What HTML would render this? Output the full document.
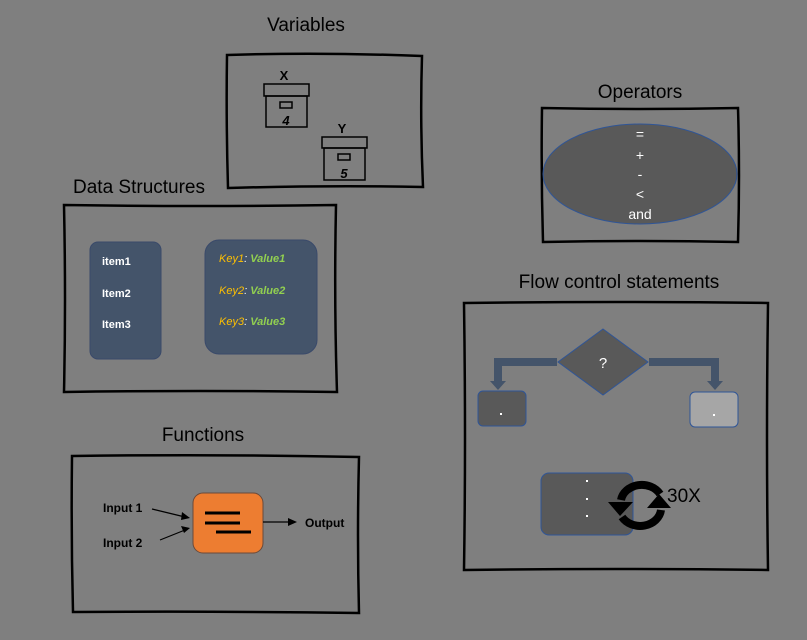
<!DOCTYPE html>
<html><head><style>
body{margin:0;background:#7f7f7f;}
svg{display:block;font-family:"Liberation Sans",sans-serif;}
</style></head><body>
<svg width="807" height="640" viewBox="0 0 807 640">
<rect width="807" height="640" fill="#7f7f7f"/>
<g fill="none" stroke="#000" stroke-width="2.5">
<path d="M227,55 Q320,52 422,56 Q420,120 423,187 Q330,185 228,188 Q226,120 227,55Z"/>
<path d="M542,108 Q640,110 738,108 Q740,175 738,242 Q640,240 543,242 Q541,175 542,108Z"/>
<path d="M64,205 Q200,207 336,205 Q334,300 337,392 Q200,390 64,392 Q66,300 64,205Z"/>
<path d="M464,303 Q615,301 768,303 Q766,440 768,570 Q615,568 464,570 Q466,440 464,303Z"/>
<path d="M72,456 Q215,454 359,457 Q357,535 359,613 Q215,611 73,612 Q71,535 72,456Z"/>
</g>
<g font-size="19" fill="#000" text-anchor="middle">
<text x="306" y="31">Variables</text>
<text x="640" y="98">Operators</text>
<text x="139" y="193">Data Structures</text>
<text x="619" y="288">Flow control statements</text>
<text x="203" y="441">Functions</text>
</g>
<g stroke="#000" stroke-width="1.5" fill="none">
<rect x="264" y="84" width="45" height="12"/><rect x="266" y="96" width="41" height="31"/><rect x="280" y="102" width="12" height="6"/>
<rect x="322" y="137" width="45" height="11"/><rect x="324" y="148" width="41" height="32"/><rect x="338" y="154" width="12" height="6"/>
</g>
<g font-weight="bold" font-size="13" text-anchor="middle">
<text x="284" y="80">X</text><text x="286" y="125" font-style="italic">4</text>
<text x="342" y="133">Y</text><text x="344" y="178" font-style="italic">5</text>
</g>
<ellipse cx="640" cy="174" rx="97" ry="50" fill="#595959" stroke="#2f5597" stroke-width="1"/>
<g fill="#fff" font-size="14" text-anchor="middle">
<text x="640" y="139">=</text><text x="640" y="160">+</text><text x="640" y="179">-</text><text x="640" y="199">&lt;</text><text x="640" y="219">and</text>
</g>
<rect x="90" y="242" width="71" height="117" rx="8" fill="#44546a" stroke="#3a4a6a"/>
<rect x="205" y="240" width="112" height="114" rx="14" fill="#44546a" stroke="#3a4a6a"/>
<g fill="#fff" font-size="11" font-weight="bold">
<text x="102" y="265">item1</text><text x="102" y="297">Item2</text><text x="102" y="328">Item3</text>
</g>
<g font-size="11" font-weight="bold" font-style="italic">
<text x="219" y="262"><tspan fill="#ffc000" font-weight="normal">Key1</tspan><tspan fill="#fff" font-weight="normal">: </tspan><tspan fill="#92d050">Value1</tspan></text>
<text x="219" y="294"><tspan fill="#ffc000" font-weight="normal">Key2</tspan><tspan fill="#fff" font-weight="normal">: </tspan><tspan fill="#92d050">Value2</tspan></text>
<text x="219" y="325"><tspan fill="#ffc000" font-weight="normal">Key3</tspan><tspan fill="#fff" font-weight="normal">: </tspan><tspan fill="#92d050">Value3</tspan></text>
</g>
<path d="M557,362 L498,362 L498,382" fill="none" stroke="#44546a" stroke-width="8"/>
<path d="M490,381 L506,381 L498,390Z" fill="#44546a"/>
<path d="M649,362 L715,362 L715,382" fill="none" stroke="#44546a" stroke-width="8"/>
<path d="M707,381 L723,381 L715,390Z" fill="#44546a"/>
<polygon points="603,329 648,362 603,395 558,362" fill="#595959" stroke="#2f5597" stroke-width="1"/>
<text x="603" y="368" fill="#fff" font-size="15" text-anchor="middle">?</text>
<rect x="478" y="391" width="48" height="35" rx="5" fill="#595959" stroke="#2f5597"/>
<rect x="690" y="392" width="48" height="35" rx="5" fill="#a6a6a6" stroke="#2f5597"/>
<rect x="500" y="413" width="2" height="2" fill="#fff"/><rect x="713" y="414" width="2" height="2" fill="#fff"/>
<rect x="541" y="473" width="92" height="62" rx="8" fill="#595959" stroke="#2f5597"/>
<rect x="586" y="480" width="2" height="2" fill="#fff"/><rect x="586" y="498" width="2" height="2" fill="#fff"/><rect x="586" y="515" width="2" height="2" fill="#fff"/>
<g fill="none" stroke="#000" stroke-width="8">
<path d="M621,500 A21,18 0 0 1 660,494"/>
<path d="M661,510 A21,18 0 0 1 622,517"/>
</g>
<path d="M608,502 L633,502 L620,516Z" fill="#000"/>
<path d="M671,508 L647,508 L659,494Z" fill="#000"/>
<text x="667" y="502" font-size="19" fill="#000">30X</text>
<rect x="193" y="493" width="70" height="60" rx="10" fill="#ed7d31" stroke="#6b4a3a"/>
<g stroke="#000" stroke-width="3"><line x1="205" y1="513" x2="240" y2="513"/><line x1="205" y1="523" x2="240" y2="523"/><line x1="216" y1="532" x2="251" y2="532"/></g>
<g stroke="#000" stroke-width="1.2"><line x1="152" y1="509" x2="185" y2="517"/><line x1="160" y1="540" x2="185" y2="530"/><line x1="263" y1="522" x2="290" y2="522"/></g>
<path d="M190,518 L182,512 L181,520Z M190,528 L181,526 L184,533Z M297,522 L288,518 L288,526Z" fill="#000"/>
<g font-size="12" font-weight="bold" fill="#000">
<text x="103" y="512">Input 1</text><text x="103" y="547">Input 2</text><text x="305" y="527">Output</text>
</g>
</svg>
</body></html>
